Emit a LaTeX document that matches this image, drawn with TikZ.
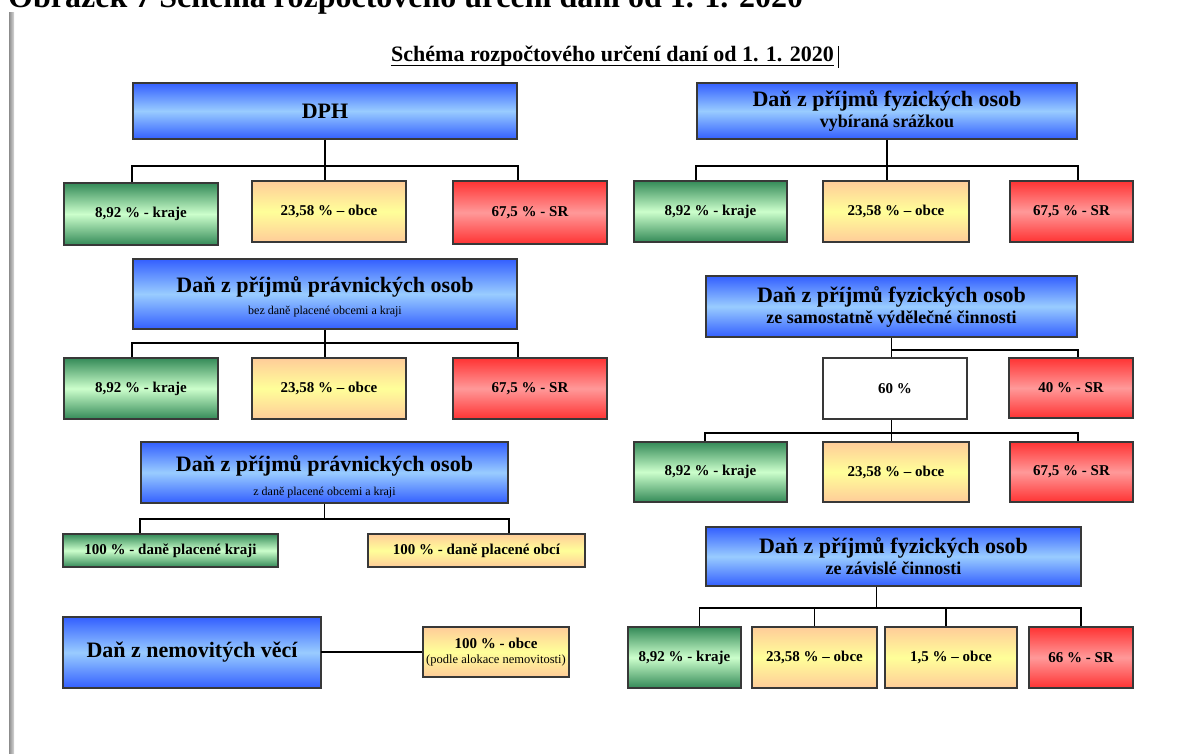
\documentclass[tikz,border=0pt]{standalone}
\usepackage{fontspec}
\setmainfont{Liberation Serif}
\definecolor{bla}{RGB}{51,95,255}
\definecolor{blb}{RGB}{153,204,255}
\definecolor{gra}{RGB}{52,138,88}
\definecolor{grb}{RGB}{204,255,204}
\definecolor{yea}{RGB}{255,204,153}
\definecolor{yeb}{RGB}{255,255,153}
\definecolor{rda}{RGB}{255,51,51}
\definecolor{rdb}{RGB}{255,153,153}
\tikzset{
  bx/.style={draw=black!78, line width=1.5pt, inner sep=0pt, align=center,
    font=\fontsize{15}{17}\selectfont\bfseries},
  bxblue/.style={bx, top color=bla, bottom color=bla, middle color=blb,
    font=\fontsize{22}{21}\selectfont\bfseries},
  bxgreen/.style={bx, top color=gra, bottom color=gra, middle color=grb},
  bxyellow/.style={bx, top color=yea, bottom color=yea, middle color=yeb},
  bxred/.style={bx, top color=rda, bottom color=rda, middle color=rdb},
  bxwhite/.style={bx, fill=white},
  conn/.style={draw=black, line width=1.7pt},
}
\newcommand{\mkbox}[7]{\node[#6, minimum width={#4-#2}, minimum height={#5-#3}] (#1) at ({(#2+#4)/2},{(#3+#5)/2}) {#7};}
\newcommand{\subA}[1]{{\fontsize{18}{21}\selectfont #1}}
\newcommand{\subB}[1]{{\fontsize{12}{14}\mdseries\selectfont #1}}
\begin{document}
\begin{tikzpicture}[x=1pt,y=-1pt]
\useasboundingbox (0,0) rectangle (1190,754);
\clip (0,0) rectangle (1190,754);
\fill[white] (0,0) rectangle (1190,754);
% page heading (cut at top)
\node[anchor=base west, inner sep=0pt, font=\fontsize{32}{36}\selectfont\bfseries] (heading) at (8,8) {Obrázek 7 Schéma rozpočtového určení daní od 1. 1. 2020};
\shade[left color=black!45, right color=black!15] (9,13) rectangle (14,754);
% title
\node[anchor=base, inner sep=0pt, font=\fontsize{22}{24}\selectfont\bfseries] (title) at (612.5,61.5) {Schéma rozpočtového určení daní od 1. 1. 2020};
\draw[line width=1.5pt] ([yshift=-4pt]title.base west) -- ([yshift=-4pt]title.base east);
\coordinate (caret) at ([xshift=4pt,yshift=15pt]title.base east);
\draw[line width=0.9pt] (caret) -- ++(0,22);

% ---------- left column ----------
\mkbox{dph}{133}{83}{517}{139}{bxblue}{DPH}
\mkbox{dphk}{64}{183}{218}{245}{bxgreen}{8,92 \% - kraje}
\mkbox{dpho}{252}{181}{406}{242}{bxyellow}{23,58 \% – obce}
\mkbox{dphs}{453}{181}{607}{244}{bxred}{67,5 \% - SR}

\mkbox{ppa}{133}{259}{517}{329}{bxblue}{\rule{0pt}{22pt}Daň z příjmů právnických osob\\[1.5pt]\subB{bez daně placené obcemi a kraji}}
\mkbox{ppak}{64}{358}{218}{419}{bxgreen}{8,92 \% - kraje}
\mkbox{ppao}{252}{358}{406}{419}{bxyellow}{23,58 \% – obce}
\mkbox{ppas}{453}{358}{607}{419}{bxred}{67,5 \% - SR}

\mkbox{ppb}{141}{442}{508}{503}{bxblue}{\rule{0pt}{25pt}Daň z příjmů právnických osob\\[3pt]\subB{z daně placené obcemi a kraji}}
\mkbox{ppbk}{63}{534}{278}{567}{bxgreen}{100 \% - daně placené kraji}
\mkbox{ppbo}{368}{534}{585}{567}{bxyellow}{100 \% - daně placené obcí}

\mkbox{nem}{63}{617}{321}{688}{bxblue}{Daň z nemovitých věcí}
\mkbox{nemo}{423}{627}{569}{677}{bxyellow}{100 \% - obce\\[-2pt]{\fontsize{12.5}{14}\mdseries\selectfont (podle alokace nemovitosti)}}

% ---------- right column ----------
\mkbox{fs}{697}{83}{1077}{139}{bxblue}{Daň z příjmů fyzických osob\\\subA{vybíraná srážkou}}
\mkbox{fsk}{634}{181}{787}{242}{bxgreen}{8,92 \% - kraje}
\mkbox{fso}{823}{181}{969}{242}{bxyellow}{23,58 \% – obce}
\mkbox{fss}{1010}{181}{1133}{242}{bxred}{67,5 \% - SR}

\mkbox{sv}{706}{276}{1077}{337}{bxblue}{Daň z příjmů fyzických osob\\\subA{ze samostatně výdělečné činnosti}}
\mkbox{sixty}{823}{358}{967}{419}{bxwhite}{60 \%}
\mkbox{svs}{1009}{358}{1133}{418}{bxred}{40 \% - SR}
\mkbox{sxk}{634}{442}{787}{502}{bxgreen}{8,92 \% - kraje}
\mkbox{sxo}{823}{442}{969}{502}{bxyellow}{23,58 \% – obce}
\mkbox{sxs}{1010}{442}{1133}{502}{bxred}{67,5 \% - SR}

\mkbox{fz}{706}{527}{1081}{586}{bxblue}{Daň z příjmů fyzických osob\\\subA{ze závislé činnosti}}
\mkbox{fzk}{628}{627}{741}{688}{bxgreen}{8,92 \% - kraje}
\mkbox{fzo}{752}{627}{877}{688}{bxyellow}{23,58 \% – obce}
\mkbox{fzp}{885}{627}{1017}{688}{bxyellow}{1,5 \% – obce}
\mkbox{fzs}{1029}{627}{1133}{688}{bxred}{66 \% - SR}

% ---------- connectors ----------
% DPH
\coordinate (dphbar) at ([yshift=-26pt]dph.south);
\draw[conn] (dph.south) -- (dpho.north -| dph.south);
\draw[conn] (dphk.north -| dph.west) -- (dphbar -| dph.west) -- (dphbar -| dph.east) -- (dphs.north -| dph.east);
% DPPO 1
\coordinate (ppabar) at ([yshift=-13pt]ppa.south);
\draw[conn] (ppa.south) -- (ppao.north -| ppa.south);
\draw[conn] (ppak.north -| ppa.west) -- (ppabar -| ppa.west) -- (ppabar -| ppa.east) -- (ppas.north -| ppa.east);
% DPPO 2
\coordinate (ppbbar) at ([yshift=-15pt]ppb.south);
\draw[conn] (ppb.south) -- (ppbbar);
\draw[conn] (ppbk.north -| ppb.west) -- (ppbbar -| ppb.west) -- (ppbbar -| ppb.east) -- (ppbo.north -| ppb.east);
% nemovitosti
\draw[conn] (nem.east) -- (nemo.west -| nem.east) -- (nemo.west);
% DPFO srazkou
\coordinate (fsbar) at ([yshift=-26pt]fs.south);
\draw[conn] (fs.south) -- (fso.north -| fs.south);
\draw[conn] (fsk.north -| fs.west) -- (fsbar -| fs.west) -- (fsbar -| fs.east) -- (fss.north -| fs.east);
% DPFO samostatna
\coordinate (svbar) at ([yshift=-12pt]sv.south);
\draw[conn] (sv.south) -- (sixty.north -| sv.south);
\draw[conn] (svbar) -- (svbar -| sv.east) -- (svs.north -| sv.east);
\coordinate (sxtop) at (sixty.south -| sv.south);
\coordinate (sxbar) at ([yshift=-13pt]sxtop);
\draw[conn] (sxtop) -- (sxo.north -| sv.south);
\draw[conn] (sxk.north -| sv.west) -- (sxbar -| sv.west) -- (sxbar -| sv.east) -- (sxs.north -| sv.east);
% DPFO zavisla
\coordinate (fztop) at ([xshift=-17pt]fz.south);
\coordinate (fzbar) at ([yshift=-21pt]fztop);
\draw[conn] (fztop) -- (fzbar);
\coordinate (fzl) at ([xshift=15pt]fzk.north);
\coordinate (fzq) at ([xshift=-5pt]fzp.north);
\draw[conn] (fzl) -- (fzbar -| fzl) -- (fzbar -| fzs.north) -- (fzs.north);
\draw[conn] (fzo.north) -- (fzbar -| fzo.north);
\draw[conn] (fzq) -- (fzbar -| fzq);
\end{tikzpicture}
\end{document}
